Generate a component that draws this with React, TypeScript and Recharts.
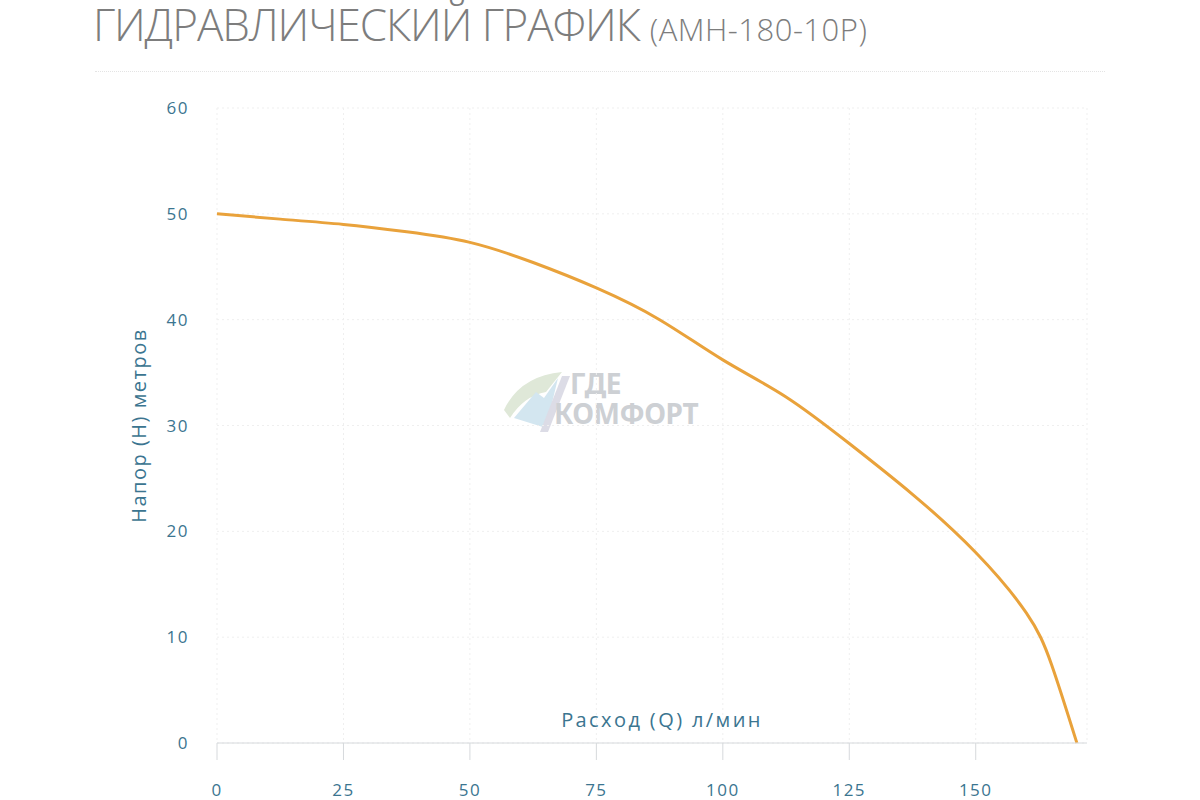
import React from 'react';
import {LineChart, Line, XAxis, YAxis, CartesianGrid, Label} from 'recharts';

// расход, л/мин
const flow = [0, 12.5, 25, 37.5, 50, 62.5, 75, 87.5, 100, 112.5, 125, 137.5, 150, 160, 165, 170];
// напор, м
const head = [50, 49.5, 49, 48.3, 47.3, 45.4, 43, 40, 36.2, 32.7, 28.3, 23.5, 18, 12.3, 7.4, 0];

const xTicks = [0, 25, 50, 75, 100, 125, 150];
const yTicks = [0, 10, 20, 30, 40, 50, 60];

const title = 'ГИДРАВЛИЧЕСКИЙ ГРАФИК';
const model = '(АМН-180-10Р)';
const xLabel = 'Расход (Q) л/мин';
const yLabel = 'Напор (H) метров';
const mark = 'ГДЕ\nКОМФОРТ';

const data = flow.map((q, i) => ({q, h: head[i]}));

const tickColor = '#3b7590';
const font = '"Open Sans", sans-serif';

export default function App() {
  return (
    <div style={{position: 'absolute', left: 0, top: 0, width: 1200, height: 800, background: '#fff', fontFamily: font, overflow: 'hidden'}}>
      <div style={{position: 'absolute', left: 93, top: 2, whiteSpace: 'nowrap', color: '#7d7d7d', fontWeight: 300, lineHeight: 1}}>
        <span style={{fontSize: 44, letterSpacing: -1.1}}>{title}</span>
        <span style={{fontSize: 31, marginLeft: 10, letterSpacing: 0.5}}>{model}</span>
      </div>
      <div style={{position: 'absolute', left: 95, top: 71, width: 1010, borderTop: '1px dotted #e4e4e4'}} />

      {/* watermark */}
      <svg style={{position: 'absolute', left: 500, top: 366}} width={80} height={70}>
        <path d="M4 44 Q20 10 62 6 L46 26 Q24 30 10 52 Z" fill="#dfe8d8" />
        <path d="M14 52 L36 26 L44 32 L58 12 L46 62 Z" fill="#d3e6f0" />
        <path d="M40 66 L62 10 L70 10 L48 66 Z" fill="#dcdce6" />
      </svg>
      <div style={{position: 'absolute', left: 554, top: 368, fontSize: 28, lineHeight: '30px', textIndent: 16, whiteSpace: 'pre', letterSpacing: -0.5, color: '#cdd0d4', fontWeight: 700, fontFamily: '"Noto Sans", sans-serif'}}>{mark}</div>

      <div style={{position: 'absolute', left: 0, top: 0}}>
        <LineChart width={1200} height={800} data={data} margin={{top: 108, right: 113, bottom: 0, left: 127}}>
          <CartesianGrid stroke="#efefef" strokeDasharray="2 3" />
          <XAxis
            dataKey="q"
            type="number"
            domain={[0, 172]}
            ticks={xTicks}
            height={57}
            axisLine={{stroke: '#d6d9dc'}}
            tickLine={{stroke: '#d6d9dc'}}
            tickSize={17}
            tickMargin={24}
            tick={{fill: tickColor, fontSize: 17, fontFamily: font, letterSpacing: 1.5}}
          >
            <Label value={xLabel} position="top" offset={16} dx={10} fill={tickColor} fontSize={20} fontFamily={font} style={{letterSpacing: 2.4}} />
          </XAxis>
          <YAxis
            type="number"
            domain={[0, 60]}
            ticks={yTicks}
            width={90}
            axisLine={false}
            tickLine={false}
            tickSize={0}
            tickMargin={28}
            tick={{fill: tickColor, fontSize: 17, fontFamily: font, letterSpacing: 1.5}}
          >
            <Label value={yLabel} angle={-90} position="insideLeft" offset={12} fill={tickColor} fontSize={20} fontFamily={font} style={{textAnchor: 'middle', letterSpacing: 1.5}} />
          </YAxis>
          <Line dataKey="h" type="natural" stroke="#e9a23b" strokeWidth={3} dot={false} isAnimationActive={false} />
        </LineChart>
      </div>
    </div>
  );
}
